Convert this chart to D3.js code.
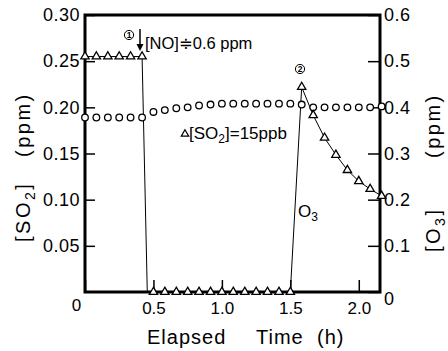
<!DOCTYPE html>
<html><head><meta charset="utf-8">
<script src="https://cdn.jsdelivr.net/npm/d3@7"></script>
<style>
html,body{margin:0;padding:0;background:#fff;}
svg{display:block;font-family:"Liberation Sans",Arial,"DejaVu Sans",sans-serif;}
</style></head><body>
<svg id="chart" width="448" height="351"></svg>
<script>
// Sampling times (h), every 5 minutes
const timeH = [0, 0.083, 0.167, 0.25, 0.333, 0.417, 0.5, 0.583, 0.667, 0.75, 0.833, 0.917,
  1.0, 1.083, 1.167, 1.25, 1.333, 1.417, 1.5, 1.583, 1.667, 1.75, 1.833, 1.917, 2.0, 2.083, 2.167];
// [SO2] (ppm), left axis, open circles
const so2Ppm = [0.189, 0.189, 0.189, 0.189, 0.189, 0.189, 0.195, 0.197, 0.199, 0.200, 0.202, 0.203,
  0.204, 0.204, 0.204, 0.204, 0.204, 0.204, 0.204, 0.203, 0.200, 0.200, 0.200, 0.200, 0.200, 0.200, 0.201];
// [O3] (ppm), right axis, open triangles
const o3Ppm = [0.51, 0.51, 0.51, 0.51, 0.51, 0.51, 0, 0, 0, 0, 0, 0,
  0, 0, 0, 0, 0, 0, 0, 0.444, 0.383, 0.334, 0.297, 0.264, 0.240, 0.223, 0.208];
// Time at which O3 is fully titrated after the NO injection
const o3DropTime = 0.455;

const xTicks = [0, 0.5, 1.0, 1.5, 2.0];
const so2Ticks = [0.05, 0.10, 0.15, 0.20, 0.25, 0.30];
const o3Ticks = [0, 0.1, 0.2, 0.3, 0.4, 0.5, 0.6];

const svg = d3.select("#chart");
const L = 85, R = 380, T = 15, B = 292;

const x = d3.scaleLinear().domain([0, 2.155]).range([L, R]);
const ySO2 = d3.scaleLinear().domain([0, 0.30]).range([B, T]);
const yO3 = d3.scaleLinear().domain([0, 0.6]).range([B, T]);

// Axes (ticks point inward)
const gx = svg.append("g").attr("transform", `translate(0,${B})`)
  .call(d3.axisBottom(x).tickValues(xTicks).tickSize(-12).tickPadding(10)
    .tickFormat(d => d === 0 ? "0" : d3.format(".1f")(d)));
const gl = svg.append("g").attr("transform", `translate(${L},0)`)
  .call(d3.axisLeft(ySO2).tickValues(so2Ticks).tickSize(-10).tickPadding(5)
    .tickFormat(d3.format(".2f")));
const gr = svg.append("g").attr("transform", `translate(${R},0)`)
  .call(d3.axisRight(yO3).tickValues(o3Ticks).tickSize(-12).tickPadding(4)
    .tickFormat(d => d === 0 ? "0" : d3.format(".1f")(d)));

[gx, gl, gr].forEach(g => {
  g.select(".domain").remove();
  g.selectAll(".tick line").attr("stroke", "#000").attr("stroke-width", 1.5);
  g.selectAll(".tick text").attr("fill", "#000").attr("font-size", 18)
    .attr("font-family", "'Liberation Sans', Arial, sans-serif");
});
gx.selectAll(".tick text").attr("font-size", 17)
  .attr("dx", d => d === 0 ? -9 : 0).attr("dy", d => d === 0 ? "0.55em" : "0.71em");
gl.selectAll(".tick text").attr("letter-spacing", 0.5);
gr.selectAll(".tick text").attr("letter-spacing", 0.5)
  .attr("dy", d => d === 0 ? "0.7em" : "0.32em");

// Plot frame
svg.append("rect").attr("x", L).attr("y", T).attr("width", R - L).attr("height", B - T)
  .attr("fill", "none").attr("stroke", "#000").attr("stroke-width", 3);

// O3 trace
const o3Pts = timeH.map((t, i) => [t, o3Ppm[i]]);
o3Pts.splice(6, 0, [o3DropTime, 0]);
svg.append("path").datum(o3Pts)
  .attr("d", d3.line().x(d => x(d[0])).y(d => yO3(d[1])))
  .attr("fill", "none").attr("stroke", "#000").attr("stroke-width", 1);

// SO2 circles
svg.append("g").selectAll("circle").data(timeH).join("circle")
  .attr("cx", d => x(d)).attr("cy", (d, i) => ySO2(so2Ppm[i])).attr("r", 3.3)
  .attr("fill", "#fff").attr("stroke", "#000").attr("stroke-width", 1.3);

// O3 triangles
const tri = d3.symbol(d3.symbolTriangle, 30);
svg.append("g").selectAll("path").data(timeH).join("path")
  .attr("d", tri)
  .attr("transform", (d, i) => `translate(${x(d)},${yO3(o3Ppm[i])})`)
  .attr("fill", "#fff").attr("stroke", "#000").attr("stroke-width", 1.3);

// Annotations
function circledNumber(cx, cy, label) {
  svg.append("circle").attr("cx", cx).attr("cy", cy).attr("r", 4.6)
    .attr("fill", "none").attr("stroke", "#000").attr("stroke-width", 1);
  svg.append("text").attr("x", cx).attr("y", cy + 3).attr("text-anchor", "middle")
    .attr("font-size", 8.5).attr("font-weight", "bold").text(label);
}
circledNumber(129, 35, "1");
circledNumber(300, 69, "2");

svg.append("line").attr("x1", 140).attr("x2", 140).attr("y1", 29).attr("y2", 46)
  .attr("stroke", "#000").attr("stroke-width", 1.5);
svg.append("path").attr("d", "M136.5,44 L143.5,44 L140,51 Z").attr("fill", "#000");

svg.append("text").attr("x", 145).attr("y", 49).attr("font-size", 16.5)
  .text("[NO]≑0.6 ppm");

svg.append("path").attr("d", d3.symbol(d3.symbolTriangle, 24))
  .attr("transform", "translate(185,134)")
  .attr("fill", "#fff").attr("stroke", "#000").attr("stroke-width", 1.2);
const dso2 = svg.append("text").attr("x", 189).attr("y", 139).attr("font-size", 17);
dso2.append("tspan").text("[SO");
dso2.append("tspan").attr("font-size", 12).attr("dy", 4).text("2");
dso2.append("tspan").attr("dy", -4).text("]=15ppb");

const o3Lab = svg.append("text").attr("x", 298).attr("y", 217).attr("font-size", 17);
o3Lab.append("tspan").text("O");
o3Lab.append("tspan").attr("font-size", 12).attr("dy", 4).text("3");

// Axis titles
const xt = svg.append("text").attr("y", 344).attr("font-size", 20).attr("letter-spacing", 1);
xt.append("tspan").attr("x", 147).text("Elapsed");
xt.append("tspan").attr("x", 256).text("Time");
xt.append("tspan").attr("x", 317).text("(h)");

function sideTitle(baseX, speciesStart, species, sub, unitStart) {
  const g = svg.append("g").attr("transform", "rotate(-90)");
  const t = g.append("text").attr("y", baseX).attr("font-size", 20).attr("letter-spacing", 2.5);
  t.append("tspan").attr("x", -speciesStart).text("[" + species);
  t.append("tspan").attr("font-size", 14).attr("dy", 5).text(sub);
  t.append("tspan").attr("dy", -5).text("]");
  t.append("tspan").attr("x", -unitStart).text("(ppm)");
}
sideTitle(30, 242, "SO", "2", 157);
sideTitle(440, 252, "O", "3", 158);
</script>
</body></html>
